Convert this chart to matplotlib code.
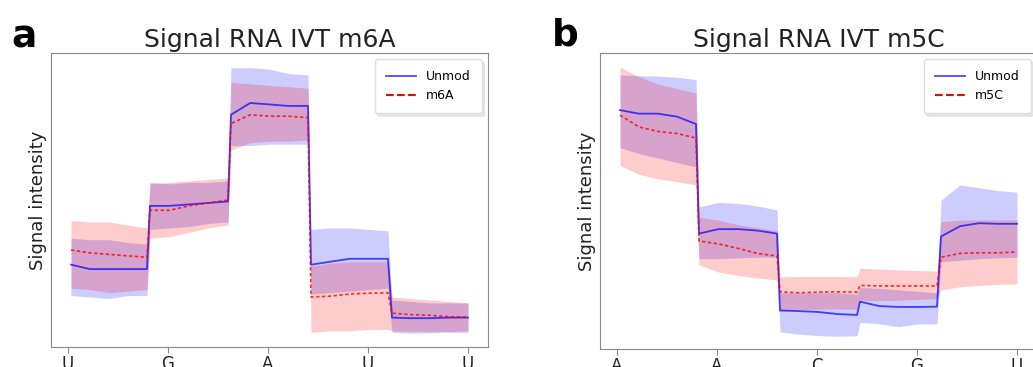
import numpy as np
import matplotlib
matplotlib.use('Agg')
import matplotlib.pyplot as plt

# x extent of each base segment (data units, ticks at 0..4)
seg_start = [0.03, 0.82, 1.63, 2.43, 3.24]
seg_end = [0.79, 1.60, 2.40, 3.20, 4.00]

# panel a: IVT m6A
a_ticks = ['U', 'G', 'A', 'U', 'U']
a_unmod = [28, 26.5, 26.5, 26.5, 26.5, 48, 48, 48.5, 49, 49.5, 79, 83, 82.5, 82, 82,
           28, 29, 30, 30, 30, 10, 9.8, 9.8, 10, 10]
a_unmod_lo = [17.5, 17, 16.5, 17.5, 17.5, 40, 40.5, 41, 42, 42.5, 68.5, 68.5, 69, 69, 69,
              18, 18.5, 19, 19.5, 20, 5, 4.7, 4.8, 5, 5]
a_unmod_hi = [37, 36.5, 36.5, 35.5, 35, 56, 55.5, 56, 56, 56.5, 95, 95, 94.5, 93, 92.5,
              40, 40.5, 40.5, 40, 39.5, 16, 15.5, 15, 15, 15]
a_mod = [33, 32, 31.5, 31, 30.5, 46.5, 46.5, 48, 49, 50, 76, 79, 78.5, 78.5, 78,
         17, 17.3, 18, 18.3, 18.4, 11.5, 11, 10.8, 10.3, 10.2]
a_mod_lo = [20, 19.5, 18.5, 19, 19.5, 37, 37.5, 39, 40.5, 41.5, 67, 69.5, 70, 70, 70.5,
            5, 5.5, 5.5, 6, 6, 5.5, 5.3, 5.3, 5.3, 5.5]
a_mod_hi = [43, 42.5, 42.5, 41.5, 40.5, 55.5, 56, 56.5, 57, 57.5, 90, 89.5, 89, 88.5, 88,
            27.5, 28.5, 29, 29, 29, 17, 16.5, 16, 15.5, 15]

# panel b: IVT m5C
b_ticks = ['A', 'A', 'C', 'G', 'U']
b_unmod = [80.7, 79.5, 79.5, 78.5, 76, 39, 40.5, 40.5, 40, 39, 13, 12.8, 12.5, 11.8, 11.5,
           16, 14.5, 14.2, 14.2, 14.3, 38, 41.5, 42.5, 42.3, 42.3]
b_unmod_lo = [68, 66, 64.5, 63, 61.5, 30.5, 30.5, 30.8, 31, 31, 5.8, 5, 4.5, 4.3, 4.5,
              9, 8.5, 7.5, 8.5, 8.5, 29.5, 30, 30.5, 30.8, 31]
b_unmod_hi = [92.6, 92.3, 92.2, 91.8, 91, 48, 49.5, 49.2, 48.3, 47, 19, 19, 19, 19, 18.5,
              20.8, 20.5, 20, 19.5, 19, 50.3, 55.4, 54.5, 53.5, 53]
b_mod = [79, 75, 73.5, 72.8, 71.3, 36.5, 35.5, 34, 32.3, 31.4, 19.3, 19, 19.2, 19.3, 19.2,
         21.5, 21.3, 21.3, 21.3, 21.3, 31, 32.3, 32.5, 32.5, 32.8]
b_mod_lo = [62, 59, 57.5, 56.5, 55.4, 28.4, 26, 24.8, 24, 23.3, 13, 13.3, 13.5, 13.5, 13.5,
            16.5, 16.3, 16.5, 16.8, 17, 20, 21, 21.5, 21.8, 22]
b_mod_hi = [95.3, 92, 89.5, 88, 86.5, 44.5, 43.5, 42, 41, 40, 24.4, 24.5, 24.5, 24.5, 24.4,
            27.3, 27, 26.7, 26.5, 26.3, 43, 43.5, 43.6, 43.6, 43.6]

x = np.concatenate([np.linspace(s, e, 5) for s, e in zip(seg_start, seg_end)])

fig = plt.figure(figsize=(10.33, 3.67), dpi=100)
ax_a = fig.add_axes([51/1033, 20/367, 437/1033, 294/367])
ax_b = fig.add_axes([600/1033, 18/367, 437/1033, 296/367])


def draw(ax, title, ticks, unmod, ulo, uhi, mod, mlo, mhi, mod_name):
    ax.fill_between(x, ulo, uhi, color='blue', alpha=0.2, lw=0)
    ax.fill_between(x, mlo, mhi, color='red', alpha=0.2, lw=0)
    ax.plot(x, unmod, color='blue', lw=1.3, alpha=0.7, label='Unmod')
    ax.plot(x, mod, color='red', lw=1.2, ls='--', alpha=0.8, dashes=(2, 1.5))
    ax.plot([], [], color='red', lw=1.5, ls='--', label=mod_name)
    ax.set_xlim(-0.17, 4.2)
    ax.set_ylim(0, 100)
    ax.set_xticks(range(5))
    ax.set_xticklabels(ticks, fontsize=12, color='#222222')
    ax.set_yticks([])
    ax.tick_params(axis='x', length=4, color='#888888', pad=2)
    for sp in ax.spines.values():
        sp.set_color('#888888')
    ax.set_title(title, fontsize=18, color='#222222', pad=4)
    ax.set_ylabel('Signal intensity', fontsize=13, color='#222222', labelpad=3)
    ax.legend(loc='upper right', fontsize=9, borderpad=0.9, handlelength=2.4,
              labelspacing=0.45, edgecolor='#dddddd', fancybox=True, framealpha=1,
              shadow={'color': '0.85', 'alpha': 0.6})


draw(ax_a, 'Signal RNA IVT m6A', a_ticks, a_unmod, a_unmod_lo, a_unmod_hi,
     a_mod, a_mod_lo, a_mod_hi, 'm6A')
draw(ax_b, 'Signal RNA IVT m5C', b_ticks, b_unmod, b_unmod_lo, b_unmod_hi,
     b_mod, b_mod_lo, b_mod_hi, 'm5C')

fig.text(11/1033, 1 - 47/367, 'a', fontsize=27, fontweight='bold', va='baseline')
fig.text(552/1033, 1 - 45/367, 'b', fontsize=27, fontweight='bold', va='baseline')

plt.savefig('out.png', dpi=100)
